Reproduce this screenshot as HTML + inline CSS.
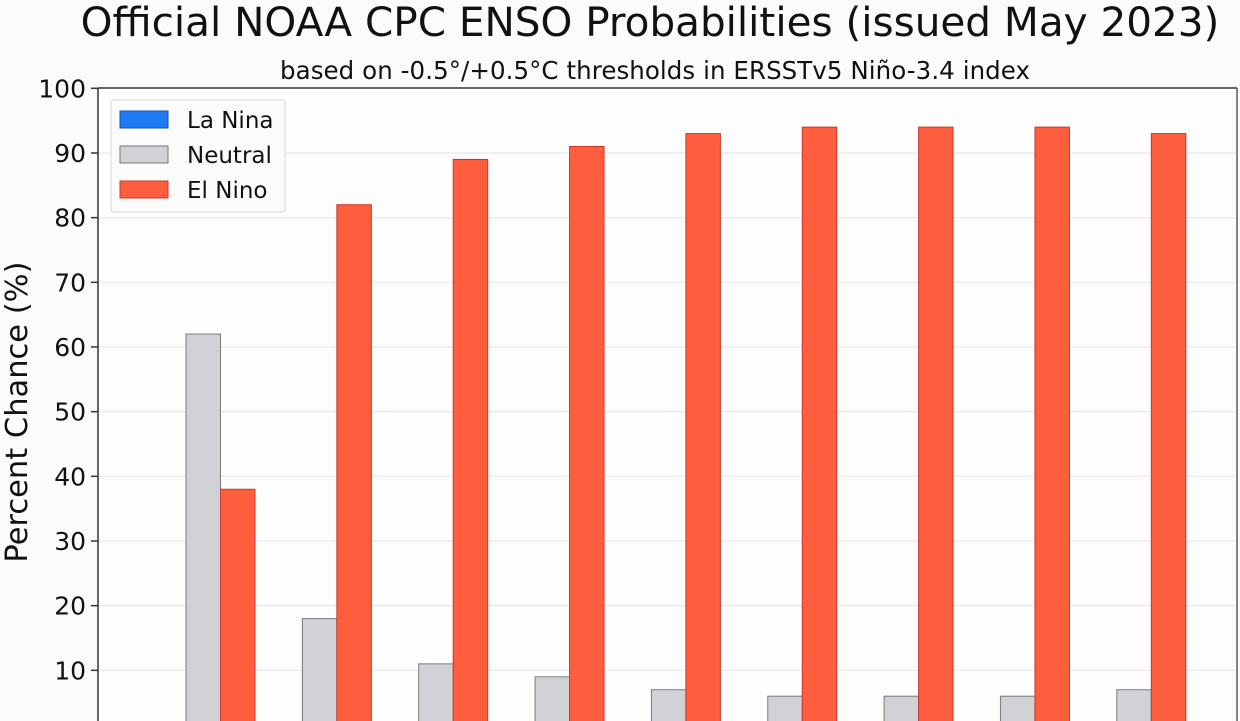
<!DOCTYPE html>
<html><head><meta charset="utf-8"><style>
body{margin:0;background:#fbfbfc;}
svg{display:block;font-family:"DejaVu Sans","Liberation Sans",sans-serif;}
</style></head><body>
<svg id="chart" width="1240" height="721">
<rect width="1240" height="721" fill="#fbfbfc"/>
<text x="650" y="36" font-size="40.5" text-anchor="middle" fill="#111">Official NOAA CPC ENSO Probabilities (issued May 2023)</text>
<text x="655" y="79" font-size="24.5" text-anchor="middle" fill="#111" textLength="750">based on -0.5°/+0.5°C thresholds in ERSSTv5 Niño-3.4 index</text>
<text transform="translate(27,412) rotate(-90)" font-size="30.5" text-anchor="middle" fill="#111">Percent Chance (%)</text>
<rect x="98" y="88" width="1139" height="660" fill="#fdfdfe" stroke="none"/>
<g id="grid"></g><g id="bars"></g><g id="ticks"></g>
<line x1="98" y1="88" x2="98" y2="721" stroke="#333" stroke-width="1.5"/>
<line x1="98" y1="88" x2="1237" y2="88" stroke="#333" stroke-width="1.5"/>
<line x1="1237" y1="88" x2="1237" y2="721" stroke="#333" stroke-width="1.2"/>
<g>
<rect x="111" y="100" width="174" height="112" rx="3" fill="#fbfbfc" stroke="#d8d8d8"/>
<rect x="120" y="111" width="48" height="17" fill="#1f7bf5" stroke="#1550b0"/>
<text x="187" y="128" font-size="23" fill="#111">La Nina</text>
<rect x="120" y="146" width="48" height="17" fill="#d1d2d6" stroke="#777"/>
<text x="187" y="163" font-size="23" fill="#111">Neutral</text>
<rect x="120" y="181" width="48" height="17" fill="#ff5e3e" stroke="#c8392a"/>
<text x="187" y="198" font-size="23" fill="#111">El Nino</text>
</g>
</svg>
<script>
const seasons=["AMJ","MJJ","JJA","JAS","ASO","SON","OND","NDJ","DJF"];
const laNina=[0,0,0,0,0,0,0,0,0];
const neutral=[62,18,11,9,7,6,6,6,7];
const elNino=[38,82,89,91,93,94,94,94,93];
const yTicks=[10,20,30,40,50,60,70,80,90,100];
const NS="http://www.w3.org/2000/svg";
const y=v=>735-v*6.467;
const xc=i=>220.5+i*116.35;
const bw=34.5;
function mk(t,a){const e=document.createElementNS(NS,t);for(const k in a)e.setAttribute(k,a[k]);return e;}
const grid=document.getElementById('grid'),bars=document.getElementById('bars'),ticks=document.getElementById('ticks');
yTicks.forEach(v=>{
 if(v<100){const g=mk('line',{x1:99,x2:1236,y1:y(v),y2:y(v),stroke:'#e6e9ee','stroke-width':1.2});
 
 
 grid.appendChild(g);}
 const t=mk('line',{x1:91,x2:98,y1:y(v),y2:y(v),stroke:'#333','stroke-width':1.5});
 
 
 ticks.appendChild(t);
 const l=mk('text',{x:86,y:y(v)+9,'font-size':25,'text-anchor':'end',fill:'#111'});
 l.textContent=v;
 
 
 ticks.appendChild(l);
});
seasons.forEach((s,i)=>{
 if(laNina[i]>0){const r=mk('rect',{x:xc(i)-bw*1.5,y:y(laNina[i]),width:bw,height:y(0)-y(laNina[i]),fill:'#1f7bf5',stroke:'#1550b0'});
 
 
 bars.appendChild(r);}
 const n=mk('rect',{x:xc(i)-bw,y:y(neutral[i]),width:bw,height:y(0)-y(neutral[i]),fill:'#d1d2d6',stroke:'#7a7a7a','stroke-width':1});
 
 
 bars.appendChild(n);
 const e=mk('rect',{x:xc(i),y:y(elNino[i]),width:bw,height:y(0)-y(elNino[i]),fill:'#ff5e3e',stroke:'#c8392a','stroke-width':1});
 
 
 bars.appendChild(e);
});
</script>
</body></html>
